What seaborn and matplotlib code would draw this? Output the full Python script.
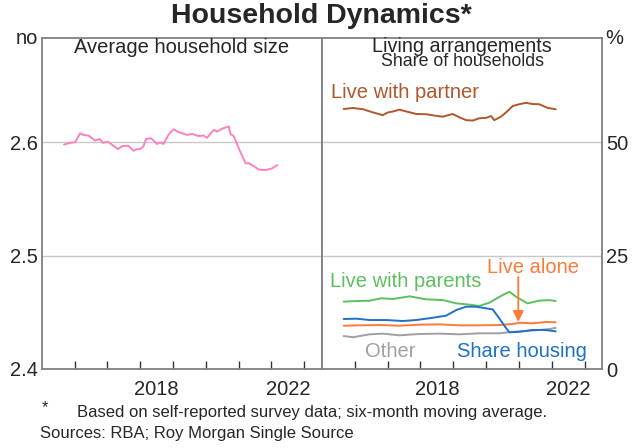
import matplotlib
matplotlib.use("Agg")
import matplotlib.pyplot as plt
import seaborn as sns
import pandas as pd

# ---------------- data ----------------
size_year = [2015.68, 2015.86, 2016.02, 2016.17, 2016.27, 2016.42, 2016.63, 2016.76, 2016.87, 2017.02,
             2017.18, 2017.33, 2017.44, 2017.64, 2017.80, 2017.90, 2018.00, 2018.10, 2018.18, 2018.34,
             2018.51, 2018.61, 2018.71, 2018.87, 2019.02, 2019.17, 2019.43, 2019.58, 2019.78, 2019.93,
             2020.04, 2020.24, 2020.34, 2020.50, 2020.70, 2020.75, 2020.85, 2021.03, 2021.21, 2021.31,
             2021.46, 2021.61, 2021.82, 2022.02, 2022.18]
size_value = [2.598, 2.5995, 2.600, 2.608, 2.6065, 2.606, 2.6015, 2.603, 2.5995, 2.6005,
              2.597, 2.594, 2.5965, 2.597, 2.5925, 2.594, 2.594, 2.5965, 2.603, 2.6035,
              2.5985, 2.600, 2.5985, 2.607, 2.6115, 2.609, 2.6065, 2.6075, 2.6055, 2.606,
              2.604, 2.611, 2.6095, 2.612, 2.614, 2.6075, 2.6055, 2.593, 2.5815, 2.5815,
              2.579, 2.576, 2.5755, 2.577, 2.580]

partner_year = [2015.66, 2015.94, 2016.25, 2016.55, 2016.85, 2017.01, 2017.16, 2017.36, 2017.57, 2017.87,
                2018.17, 2018.43, 2018.68, 2018.98, 2019.19, 2019.39, 2019.59, 2019.79, 2020.00, 2020.15,
                2020.25, 2020.45, 2020.60, 2020.81, 2021.01, 2021.21, 2021.41, 2021.62, 2021.87, 2022.12]
partner_value = [57.35, 57.57, 57.3, 56.6, 56.0, 56.6, 56.8, 57.2, 56.8, 56.25,
                 56.2, 55.9, 55.65, 56.25, 55.5, 54.9, 54.8, 55.3, 55.4, 55.8,
                 54.9, 55.65, 56.55, 58.0, 58.4, 58.7, 58.45, 58.4, 57.6, 57.3]

parents_year = [2015.66, 2016.05, 2016.45, 2016.81, 2017.16, 2017.67, 2018.17, 2018.68, 2019.09, 2019.49,
                2019.79, 2020.10, 2020.45, 2020.71, 2020.91, 2021.26, 2021.62, 2021.92, 2022.12]
parents_value = [14.85, 15.0, 15.07, 15.6, 15.44, 16.03, 15.37, 15.2, 14.48, 14.2,
                 13.9, 14.63, 16.1, 17.05, 15.95, 14.48, 15.07, 15.2, 15.0]

share_year = [2015.66, 2016.05, 2016.45, 2016.96, 2017.46, 2017.87, 2018.37, 2018.78, 2019.09, 2019.39,
              2019.69, 2020.00, 2020.20, 2020.40, 2020.58, 2020.71, 2021.01, 2021.41, 2021.82, 2022.12]
share_value = [11.03, 11.1, 10.8, 10.8, 10.59, 10.8, 11.3, 11.76, 13.0, 13.75,
               13.75, 13.38, 13.16, 11.18, 9.3, 8.1, 8.2, 8.6, 8.6, 8.3]

alone_year = [2015.66, 2016.15, 2016.75, 2017.36, 2017.97, 2018.58, 2019.19, 2019.79, 2020.40, 2020.81,
              2021.01, 2021.41, 2021.82, 2022.12]
alone_value = [9.55, 9.63, 9.7, 9.55, 9.78, 9.85, 9.63, 9.63, 9.7, 9.93,
               10.2, 10.07, 10.37, 10.3]

other_year = [2015.66, 2015.94, 2016.45, 2016.85, 2017.36, 2017.97, 2018.58, 2019.19, 2019.79, 2020.40,
              2020.81, 2021.21, 2021.62, 2021.92, 2022.12]
other_value = [7.28, 7.0, 7.65, 7.8, 7.43, 7.72, 7.8, 7.65, 7.87, 7.87,
               8.2, 8.4, 8.6, 8.8, 9.1]

year_ticks = [2016, 2017, 2018, 2019, 2020, 2021, 2022, 2023]
year_labels = ["2018", "2022"]
left_yticks = [2.4, 2.5, 2.6]
left_ylabels = ["2.4", "2.5", "2.6"]
right_yticks = [0, 25, 50]
right_ylabels = ["0", "25", "50"]

# ---------------- style ----------------
sns.set_style("white")
plt.rcParams["font.family"] = ["Liberation Sans", "DejaVu Sans"]

FS = 14.5
FRAME = "#808080"
GRID = "#C8C8C8"
C_SIZE = "#FF80C0"
C_PARTNER = "#B0572C"
C_PARENTS = "#5CC05C"
C_SHARE = "#1F70C8"
C_ALONE = "#FF7A3A"
C_OTHER = "#A0A0A0"

fig = plt.figure(figsize=(6.43, 4.48), dpi=100)
W, H = 643, 448
x0, xm, x1 = 41.7, 322.0, 602.3
ytop, ybot = 38.3, 369.0
ax1 = fig.add_axes([x0 / W, 1 - ybot / H, (xm - x0) / W, (ybot - ytop) / H])
ax2 = fig.add_axes([xm / W, 1 - ybot / H, (x1 - xm) / W, (ybot - ytop) / H])

XLIM = (2015.0, 2023.54)

df_size = pd.DataFrame({"year": size_year, "value": size_value})
sns.lineplot(data=df_size, x="year", y="value", ax=ax1, color=C_SIZE, lw=1.4)

series = [
    (partner_year, partner_value, C_PARTNER),
    (parents_year, parents_value, C_PARENTS),
    (alone_year, alone_value, C_ALONE),
    (other_year, other_value, C_OTHER),
    (share_year, share_value, C_SHARE),
]
for yrs, vals, col in series:
    d = pd.DataFrame({"year": yrs, "value": vals})
    sns.lineplot(data=d, x="year", y="value", ax=ax2, color=col, lw=1.4)

ax1.set_ylim(2.4, 2.4 + (ybot - ytop) / 1133.5)
ax2.set_ylim(0, (ybot - ytop) / 4.5335)

for ax in (ax1, ax2):
    ax.set_xlim(*XLIM)
    ax.set_xlabel("")
    ax.set_ylabel("")
    for s in ax.spines.values():
        s.set_color(FRAME)
        s.set_linewidth(1.3)
        s.set_visible(True)
    ax.set_xticks(year_ticks)
    ax.set_xticklabels([])
    ax.set_xticks([2018.5, 2022.5], minor=True)
    ax.set_xticklabels(year_labels, minor=True)
    ax.tick_params(axis="x", which="major", direction="in", length=6, width=1, color="#333333", bottom=True)
    ax.tick_params(axis="x", which="minor", length=0, pad=8, labelsize=FS, bottom=True)
    ax.grid(axis="y", color=GRID, lw=1)
    ax.grid(axis="x", visible=False)
    ax.set_axisbelow(True)

ax1.set_yticks(left_yticks)
ax1.set_yticklabels(left_ylabels)
ax1.tick_params(axis="y", length=0, pad=3, labelsize=FS, left=True)
ax2.yaxis.tick_right()
ax2.set_yticks(right_yticks)
ax2.set_yticklabels(right_ylabels)
ax2.tick_params(axis="y", length=0, pad=3, labelsize=FS, right=True, left=False)

# units
ax1.text(-0.012, 1.0, "no", transform=ax1.transAxes, ha="right", va="center", fontsize=FS)
ax2.text(1.012, 1.0, "%", transform=ax2.transAxes, ha="left", va="center", fontsize=FS)

# panel titles (positions in figure pixels from top)
fig.text((x0 + xm) / 2 / W, 1 - 47.5 / H, "Average household size", ha="center", va="center", fontsize=FS)
fig.text((xm + x1) / 2 / W, 1 - 46.5 / H, "Living arrangements", ha="center", va="center", fontsize=14.2)
fig.text((xm + x1) / 2 / W, 1 - 61.5 / H, "Share of households", ha="center", va="center", fontsize=12.8)

# series labels
ax2.text(2015.26, 60.9, "Live with partner", color=C_PARTNER, fontsize=FS, ha="left", va="center")
ax2.text(2015.23, 19.4, "Live with parents", color=C_PARENTS, fontsize=FS, ha="left", va="center")
ax2.text(2021.43, 22.3, "Live alone", color=C_ALONE, fontsize=FS, ha="center", va="center")
ax2.text(2016.30, 3.9, "Other", color=C_OTHER, fontsize=FS, ha="left", va="center")
ax2.text(2019.12, 3.9, "Share housing", color=C_SHARE, fontsize=FS, ha="left", va="center")
ax2.annotate("", xy=(2020.98, 10.4), xytext=(2020.98, 20.3),
             arrowprops=dict(arrowstyle="-|>", color=C_ALONE, lw=1.3, mutation_scale=16,
                             shrinkA=0, shrinkB=0))

# title and footer
fig.text(0.5, 1 - 16 / H, "Household Dynamics*", ha="center", va="center", fontsize=20.5, fontweight="bold")
fig.text(42 / W, 1 - 408 / H, "*", ha="left", va="center", fontsize=12)
fig.text(77 / W, 1 - 412 / H, "Based on self-reported survey data; six-month moving average.",
         ha="left", va="center", fontsize=12)
fig.text(40 / W, 1 - 433 / H, "Sources: RBA; Roy Morgan Single Source", ha="left", va="center", fontsize=12)

fig.savefig("out.png", dpi=100)
